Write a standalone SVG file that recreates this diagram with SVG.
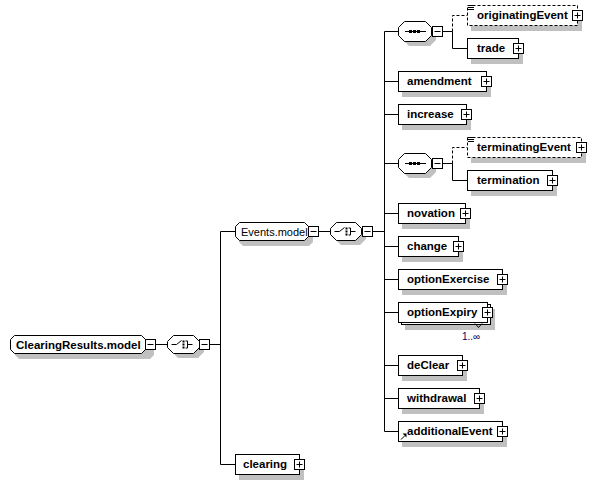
<svg xmlns="http://www.w3.org/2000/svg" width="596" height="484" viewBox="0 0 596 484">
<style>
.bx{fill:#fff;stroke:#000;stroke-width:1}
.dbx{fill:#fff;stroke:#000;stroke-width:1;stroke-dasharray:3,2}
.sh{fill:#c0c0c0;stroke:none}
.ln{fill:none;stroke:#000;stroke-width:1}
.dl{fill:none;stroke:#000;stroke-width:1;stroke-dasharray:3,2}
.t{font-family:"Liberation Sans",Arial,sans-serif;font-size:11.5px;font-weight:bold;fill:#000}
.tg{font-family:"Liberation Sans",Arial,sans-serif;font-size:11px;fill:#000}
.tm{font-family:"Liberation Sans",Arial,sans-serif;font-size:10px;fill:#000060}
.dot{fill:#000}
</style>
<defs>
<g id="plus"><path d="M10.5 1.5V10.5H1.5" class="ln"/><rect x="0.5" y="0.5" width="10" height="10" class="bx"/><path d="M2.5 5.5H8.5M5.5 2.5V8.5" class="ln"/></g>
<g id="minus"><path d="M10.5 1.5V10.5H1.5" class="ln"/><rect x="0.5" y="0.5" width="10" height="10" class="bx"/><path d="M2.5 5.5H8.5" class="ln"/></g>
</defs>

<g id="connectors">
<path d="M156 344.5H167.5M210 344.5H220.5M220.5 231.5V464.5M220.5 231.5H235.5M220.5 464.5H235.5" class="ln"/>
<path d="M319 231.5H330.5M373 231.5H384.5M384.5 31.5V431.5" class="ln"/>
<path d="M384.5 31.5H398.5M384.5 81.5H398.5M384.5 114.5H398.5M384.5 163.5H398.5M384.5 213.5H398.5M384.5 246.5H398.5M384.5 279.5H398.5M384.5 312.5H398.5M384.5 365.5H398.5M384.5 398.5H398.5M384.5 431.5H398.5" class="ln"/>
<path d="M443 31.5H452.5V48.5H467.5M443 163.5H452.5V180.5H467.5" class="ln"/>
<path d="M452.5 31.5V15.5H467.5M452.5 163.5V147.5H467.5" class="dl"/>
</g>

<g id="ClearingResults.model">
<path d="M19 340H150L154 344V355L150 359H19L15 355V344Z" class="sh"/>
<path d="M14.5 335.5H141.5L145.5 339.5V349.5L141.5 353.5H14.5L10.5 349.5V339.5Z" class="bx"/>
<text x="16" y="349" class="t">ClearingResults.model</text>
<use href="#minus" x="145" y="339"/>
</g>

<g id="choice1">
<path d="M178 340H198L204 346V352L198 358H178L172 352V346Z" class="sh"/>
<path d="M173.5 335.5H193.5L199.5 341.5V347.5L193.5 353.5H173.5L167.5 347.5V341.5Z" class="bx"/>
<path d="M171.5 344.5H176.5L181.5 340.5M185.5 341H187.5V348H185.5M187.5 344.5H192.5" class="ln"/>
<rect x="182.5" y="340.5" width="2" height="2" class="dot"/><rect x="182.5" y="343.5" width="2" height="2" class="dot"/><rect x="182.5" y="346.5" width="2" height="2" class="dot"/>
<use href="#minus" x="199" y="339"/>
</g>

<g id="Events.model">
<path d="M243 227H309L313 231V242L309 246H243L239 242V231Z" class="sh"/>
<path d="M239.5 222.5H304.5L308.5 226.5V236.5L304.5 240.5H239.5L235.5 236.5V226.5Z" class="bx"/>
<text x="241" y="236" class="tg">Events.model</text>
<use href="#minus" x="308" y="226"/>
</g>

<g id="choice2">
<path d="M341 227H360L366 233V239L360 245H341L335 239V233Z" class="sh"/>
<path d="M336.5 222.5H355.5L361.5 228.5V234.5L355.5 240.5H336.5L330.5 234.5V228.5Z" class="bx"/>
<path d="M334.5 231.5H339.5L344.5 227.5M348.5 228H350.5V235H348.5M350.5 231.5H355.5" class="ln"/>
<rect x="345.5" y="227.5" width="2" height="2" class="dot"/><rect x="345.5" y="230.5" width="2" height="2" class="dot"/><rect x="345.5" y="233.5" width="2" height="2" class="dot"/>
<use href="#minus" x="362" y="226"/>
</g>

<g id="sequence1">
<path d="M409 27H430L436 33V40L430 46H409L403 40V33Z" class="sh"/>
<path d="M404.5 21.5H425.5L431.5 27.5V35.5L425.5 41.5H404.5L398.5 35.5V27.5Z" class="bx"/>
<path d="M405 31.5H426" class="ln"/>
<rect x="409" y="30" width="3" height="3" class="dot"/><rect x="413" y="30" width="3" height="3" class="dot"/><rect x="417" y="30" width="3" height="3" class="dot"/>
<use href="#minus" x="432" y="26"/>
</g>

<g id="sequence2">
<path d="M409 159H430L436 165V172L430 178H409L403 172V165Z" class="sh"/>
<path d="M404.5 153.5H425.5L431.5 159.5V167.5L425.5 173.5H404.5L398.5 167.5V159.5Z" class="bx"/>
<path d="M405 163.5H426" class="ln"/>
<rect x="409" y="162" width="3" height="3" class="dot"/><rect x="413" y="162" width="3" height="3" class="dot"/><rect x="417" y="162" width="3" height="3" class="dot"/>
<use href="#minus" x="432" y="158"/>
</g>

<g id="originatingEvent">
<rect x="471" y="10" width="111" height="21" class="sh"/>
<rect x="467.5" y="5.5" width="110" height="20" class="dbx"/>
<path d="M468 5.5H474M468 7.5H474M468 9.5H474" class="ln"/>
<text x="477" y="19" class="t">originatingEvent</text>
<use href="#plus" x="572" y="10"/>
</g>

<g id="trade">
<rect x="471" y="43" width="52" height="21" class="sh"/>
<rect x="467.5" y="38.5" width="51" height="20" class="bx"/>
<text x="477" y="52" class="t">trade</text>
<use href="#plus" x="513" y="43"/>
</g>

<g id="amendment">
<rect x="402" y="76" width="89" height="21" class="sh"/>
<rect x="398.5" y="71.5" width="88" height="20" class="bx"/>
<text x="407" y="85" class="t">amendment</text>
<use href="#plus" x="481" y="76"/>
</g>

<g id="increase">
<rect x="402" y="109" width="69" height="21" class="sh"/>
<rect x="398.5" y="104.5" width="68" height="20" class="bx"/>
<text x="407" y="118" class="t">increase</text>
<use href="#plus" x="461" y="109"/>
</g>

<g id="terminatingEvent">
<rect x="471" y="142" width="115" height="21" class="sh"/>
<rect x="467.5" y="137.5" width="114" height="20" class="dbx"/>
<path d="M468 137.5H474M468 139.5H474M468 141.5H474" class="ln"/>
<text x="477" y="151" class="t">terminatingEvent</text>
<use href="#plus" x="576" y="142"/>
</g>

<g id="termination">
<rect x="471" y="175" width="86" height="21" class="sh"/>
<rect x="467.5" y="170.5" width="85" height="20" class="bx"/>
<text x="477" y="184" class="t">termination</text>
<use href="#plus" x="547" y="175"/>
</g>

<g id="novation">
<rect x="402" y="208" width="68" height="21" class="sh"/>
<rect x="398.5" y="203.5" width="67" height="20" class="bx"/>
<text x="407" y="217" class="t">novation</text>
<use href="#plus" x="460" y="208"/>
</g>

<g id="change">
<rect x="402" y="241" width="61" height="21" class="sh"/>
<rect x="398.5" y="236.5" width="60" height="20" class="bx"/>
<text x="407" y="250" class="t">change</text>
<use href="#plus" x="453" y="241"/>
</g>

<g id="optionExercise">
<rect x="402" y="274" width="105" height="21" class="sh"/>
<rect x="398.5" y="269.5" width="104" height="20" class="bx"/>
<text x="407" y="283" class="t">optionExercise</text>
<use href="#plus" x="497" y="274"/>
</g>

<g id="optionExpiry">
<rect x="405" y="309" width="90" height="21" class="sh"/>
<rect x="401.5" y="304.5" width="89" height="20" class="bx"/>
<rect x="398.5" y="302.5" width="89" height="20" class="bx"/>
<text x="407" y="316" class="t">optionExpiry</text>
<use href="#plus" x="482" y="307"/>
<path d="M475 323.5L478.5 327.5L482 323.5" class="ln" stroke="#404040"/>
<text x="462" y="340" class="tm">1..∞</text>
</g>

<g id="deClear">
<rect x="402" y="360" width="65" height="21" class="sh"/>
<rect x="398.5" y="355.5" width="64" height="20" class="bx"/>
<text x="407" y="369" class="t">deClear</text>
<use href="#plus" x="457" y="360"/>
</g>

<g id="withdrawal">
<rect x="402" y="393" width="82" height="21" class="sh"/>
<rect x="398.5" y="388.5" width="81" height="20" class="bx"/>
<text x="407" y="402" class="t">withdrawal</text>
<use href="#plus" x="474" y="393"/>
</g>

<g id="additionalEvent">
<rect x="402" y="426" width="105" height="21" class="sh"/>
<rect x="398.5" y="421.5" width="104" height="20" class="bx"/>
<path d="M401 439.5L404.5 436" class="ln" stroke-width="1.5"/>
<path d="M402.5 433.5H406.5V437.5Z" class="dot"/>
<text x="407" y="435" class="t">additionalEvent</text>
<use href="#plus" x="497" y="426"/>
</g>

<g id="clearing">
<rect x="239" y="459" width="65" height="21" class="sh"/>
<rect x="235.5" y="454.5" width="64" height="20" class="bx"/>
<text x="243" y="468" class="t">clearing</text>
<use href="#plus" x="294" y="459"/>
</g>
</svg>
